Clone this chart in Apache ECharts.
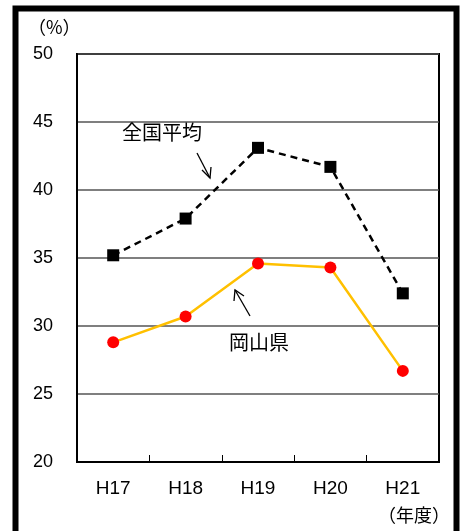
<!DOCTYPE html>
<html><head><meta charset="utf-8">
<script src="https://cdn.jsdelivr.net/npm/echarts@6/dist/echarts.min.js"></script>
<style>html,body{margin:0;padding:0;background:#fff}#c{width:467px;height:531px}</style>
</head><body><div id="c"></div>
<script>
var categories = ['H17','H18','H19','H20','H21'];
var national = [35.2, 37.9, 43.1, 41.7, 32.4];
var okayama = [28.8, 30.7, 34.6, 34.3, 26.7];
var yTicks = {min: 20, max: 50, interval: 5};
var FONT = '"Liberation Sans", "Noto Sans CJK JP", sans-serif';
var JFONT = '"Noto Sans CJK JP", sans-serif';
var chart = echarts.init(document.getElementById('c'));
chart.setOption({
  animation: false,
  backgroundColor: '#fff',
  grid: {left: 77, top: 54, right: 28, bottom: 69, show: true, borderColor: '#000', borderWidth: 2, backgroundColor: 'transparent'},
  xAxis: {
    type: 'category', data: categories, boundaryGap: true,
    axisLine: {show: true, lineStyle: {color: '#000', width: 2}},
    axisTick: {show: true, inside: true, length: 7, lineStyle: {color: '#000', width: 1}},
    axisLabel: {color: '#000', fontSize: 19, fontFamily: FONT, margin: 17}
  },
  yAxis: {
    type: 'value', min: yTicks.min, max: yTicks.max, interval: yTicks.interval,
    axisLine: {show: true, lineStyle: {color: '#000', width: 2}},
    axisTick: {show: false},
    axisLabel: {color: '#000', fontSize: 18, fontFamily: FONT, margin: 24},
    splitLine: {show: true, lineStyle: {color: '#555', width: 1.5}}
  },
  series: [
    {name: '全国平均', type: 'line', data: national, symbol: 'rect', symbolSize: 12,
     itemStyle: {color: '#000'}, lineStyle: {color: '#000', width: 2.5, type: [7, 5]}, z: 3},
    {name: '岡山県', type: 'line', data: okayama, symbol: 'circle', symbolSize: 12,
     itemStyle: {color: '#FF0000'}, lineStyle: {color: '#FFC000', width: 2.5}, z: 4}
  ],
  graphic: [
    {type: 'rect', shape: {x: 15.5, y: 8.5, width: 441, height: 540}, style: {fill: 'none', stroke: '#000', lineWidth: 6}, z: 10},
    {type: 'text', left: 28, top: 18, style: {text: '（%）', font: '18px ' + JFONT, fill: '#000'}},
    {type: 'text', left: 378, top: 506, style: {text: '（年度）', font: '18px ' + JFONT, fill: '#000'}},
    {type: 'text', left: 122, top: 122, style: {text: '全国平均', font: '20px ' + JFONT, fill: '#000'}, z: 10},
    {type: 'text', left: 229, top: 332, style: {text: '岡山県', font: '20px ' + JFONT, fill: '#000'}, z: 10},
    {type: 'polyline', shape: {points: [[197,153],[210,178]]}, style: {stroke: '#000', lineWidth: 1.3, fill: 'none'}, z: 10},
    {type: 'polyline', shape: {points: [[202,170],[210,178],[211,167]]}, style: {stroke: '#000', lineWidth: 1.3, fill: 'none'}, z: 10},
    {type: 'polyline', shape: {points: [[250,316],[235,290]]}, style: {stroke: '#000', lineWidth: 1.3, fill: 'none'}, z: 10},
    {type: 'polyline', shape: {points: [[234,301],[235,290],[244,296]]}, style: {stroke: '#000', lineWidth: 1.3, fill: 'none'}, z: 10}
  ]
});
</script></body></html>
